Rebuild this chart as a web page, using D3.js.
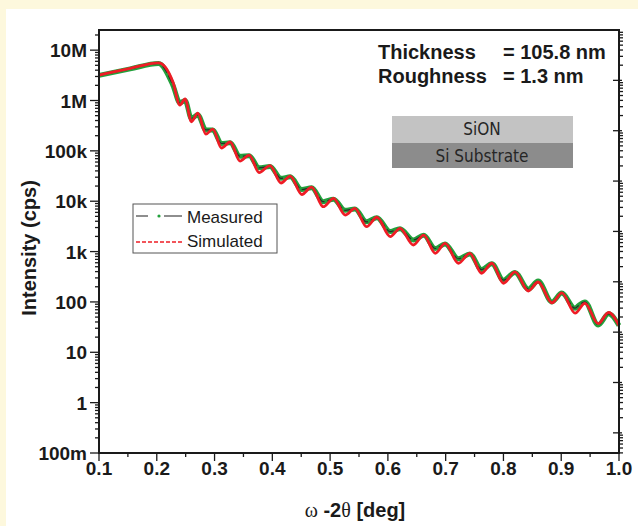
<!DOCTYPE html>
<html>
<head>
<meta charset="utf-8">
<script src="https://cdn.jsdelivr.net/npm/d3@7"></script>
<style>
  body { margin: 0; background: #fdf8dd; }
  svg { display: block; }
</style>
</head>
<body>
<div id="vis"></div>
<script>
const FRAME_WIDTH = 638;
const FRAME_HEIGHT = 526;
const PLOT = {left: 99, right: 619, top: 30, bottom: 453};

// axis ticks
const xTicks = [0.1, 0.2, 0.3, 0.4, 0.5, 0.6, 0.7, 0.8, 0.9, 1.0];
const xMinor = [0.15, 0.25, 0.35, 0.45, 0.55, 0.65, 0.75, 0.85, 0.95];
const yTicks = [1e-1, 1, 10, 100, 1e3, 1e4, 1e5, 1e6, 1e7];
const yTickLabels = ['100m', '1', '10', '100', '1k', '10k', '100k', '1M', '10M'];

// simulated curve (peaks / troughs)
const simX = [0.100, 0.154, 0.203, 0.228, 0.240, 0.249, 0.260, 0.271, 0.285, 0.297,
              0.312, 0.327, 0.344, 0.360, 0.377, 0.396, 0.415, 0.431, 0.451, 0.468,
              0.488, 0.506, 0.526, 0.543, 0.563, 0.581, 0.604, 0.621, 0.644, 0.662,
              0.682, 0.699, 0.722, 0.742, 0.762, 0.780, 0.800, 0.820, 0.843, 0.860,
              0.884, 0.901, 0.924, 0.941, 0.964, 0.982, 1.000];
const simY = [3.19e6, 4.34e6, 5.6e6, 2.32e6, 8.1e5, 1.07e6, 3.78e5, 5.62e5, 2.15e5, 2.71e5,
              1.14e5, 1.5e5, 6.28e4, 8.26e4, 3.71e4, 5.11e4, 2.3e4, 3.16e4, 1.36e4, 1.91e4,
              7.78e3, 1.14e4, 5.32e3, 7.23e3, 3.12e3, 4.8e3, 1.98e3, 2.9e3, 1.35e3, 2.13e3,
              925, 1460, 586, 925, 371, 586, 235, 394, 165, 249,
              96, 151, 60, 94, 37, 62, 34];

// measured curve
const measX = [0.100, 0.154, 0.203, 0.228, 0.240, 0.249, 0.260, 0.271, 0.285, 0.297,
               0.312, 0.327, 0.344, 0.360, 0.377, 0.396, 0.415, 0.431, 0.451, 0.468,
               0.488, 0.506, 0.526, 0.543, 0.563, 0.581, 0.604, 0.621, 0.644, 0.662,
               0.682, 0.699, 0.722, 0.742, 0.762, 0.780, 0.800, 0.820, 0.843, 0.860,
               0.884, 0.901, 0.924, 0.930, 0.941, 0.964, 0.982, 1.000];
const measY = [3.15e6, 4.25e6, 5.45e6, 2.0e6, 9.0e5, 1.0e6, 4.4e5, 5.2e5, 2.6e5, 2.6e5,
               1.4e5, 1.45e5, 7.8e4, 8.0e4, 4.6e4, 4.9e4, 2.85e4, 3.05e4, 1.7e4, 1.85e4,
               9.8e3, 1.1e4, 6.6e3, 7.0e3, 3.9e3, 4.7e3, 2.5e3, 2.85e3, 1.7e3, 2.1e3,
               1150, 1420, 720, 900, 440, 570, 270, 385, 180, 260,
               100, 150, 75, 85, 100, 35, 58, 34];

const simData = simX.map((x, i) => ({x: x, y: simY[i]}));
const measData = measX.map((x, i) => ({x: x, y: measY[i]}));

const svg = d3.select('#vis')
  .append('svg')
    .attr('width', FRAME_WIDTH)
    .attr('height', FRAME_HEIGHT);

// white panel on the cream page
svg.append('rect')
  .attr('x', 6).attr('y', 9)
  .attr('width', FRAME_WIDTH - 6).attr('height', FRAME_HEIGHT - 9)
  .attr('fill', '#ffffff');

const X_SCALE = d3.scaleLinear().domain([0.1, 1.0]).range([PLOT.left, PLOT.right]);
const Y_SCALE = d3.scaleLog().domain([1e-1, Math.pow(10, 7.4)]).range([PLOT.bottom, PLOT.top]);
// the right-hand axis of the original sits offset from the left one
const Y_RIGHT = d3.scaleLog().domain([Math.pow(10, -0.4), 1e8]).range([PLOT.bottom, PLOT.top]);

const font = 'Liberation Sans, Arial, sans-serif';

// curves
const line = d3.line()
  .x(d => X_SCALE(d.x))
  .y(d => Y_SCALE(d.y))
  .curve(d3.curveMonotoneX);

svg.append('path')
  .datum(measData)
  .attr('d', line)
  .attr('fill', 'none')
  .attr('stroke', '#23a03c')
  .attr('stroke-width', 5);

svg.append('path')
  .datum(measData)
  .attr('d', line)
  .attr('fill', 'none')
  .attr('stroke', '#2a2a2a')
  .attr('stroke-width', 1.2)
  .attr('stroke-dasharray', '8,3');

svg.append('path')
  .datum(simData)
  .attr('d', line)
  .attr('fill', 'none')
  .attr('stroke', '#ee1c25')
  .attr('stroke-width', 2.8);

// frame
svg.append('rect')
  .attr('x', PLOT.left).attr('y', PLOT.top)
  .attr('width', PLOT.right - PLOT.left).attr('height', PLOT.bottom - PLOT.top)
  .attr('fill', 'none')
  .attr('stroke', '#1a1a1a')
  .attr('stroke-width', 2);

// left axis
const yMinor = [];
for (let e = -1; e < 8; e++) {
  for (let m = 2; m <= 9; m++) {
    const v = m * Math.pow(10, e);
    if (v < Math.pow(10, 7.4)) yMinor.push(v);
  }
}
const ticksG = svg.append('g').attr('stroke', '#1a1a1a').attr('stroke-width', 1.3);
ticksG.selectAll('.ymaj').data(yTicks).enter().append('line')
  .attr('x1', PLOT.left - 9).attr('x2', PLOT.left)
  .attr('y1', d => Y_SCALE(d)).attr('y2', d => Y_SCALE(d));
ticksG.selectAll('.ymin').data(yMinor).enter().append('line')
  .attr('x1', PLOT.left - 4).attr('x2', PLOT.left)
  .attr('y1', d => Y_SCALE(d)).attr('y2', d => Y_SCALE(d));

svg.selectAll('.ylab').data(yTicks).enter().append('text')
  .attr('x', PLOT.left - 12)
  .attr('y', d => Y_SCALE(d) + 7)
  .attr('text-anchor', 'end')
  .attr('font-family', font)
  .attr('font-weight', 'bold')
  .attr('font-size', 19)
  .attr('fill', '#1a1a1a')
  .text((d, i) => yTickLabels[i]);

// right axis
const rTicks = [1, 10, 100, 1e3, 1e4, 1e5, 1e6, 1e7];
const rMinor = [];
for (let e = -1; e < 8; e++) {
  for (let m = 2; m <= 9; m++) {
    const v = m * Math.pow(10, e);
    if (v > Math.pow(10, -0.4) && v < 1e8) rMinor.push(v);
  }
}
ticksG.selectAll('.rmaj').data(rTicks).enter().append('line')
  .attr('x1', PLOT.right - 6).attr('x2', PLOT.right + 3)
  .attr('y1', d => Y_RIGHT(d)).attr('y2', d => Y_RIGHT(d));
ticksG.selectAll('.rmin').data(rMinor).enter().append('line')
  .attr('x1', PLOT.right).attr('x2', PLOT.right + 4)
  .attr('y1', d => Y_RIGHT(d)).attr('y2', d => Y_RIGHT(d));

// bottom axis
ticksG.selectAll('.xmaj').data(xTicks).enter().append('line')
  .attr('x1', d => X_SCALE(d)).attr('x2', d => X_SCALE(d))
  .attr('y1', PLOT.bottom).attr('y2', PLOT.bottom + 8);
ticksG.selectAll('.xmin').data(xMinor).enter().append('line')
  .attr('x1', d => X_SCALE(d)).attr('x2', d => X_SCALE(d))
  .attr('y1', PLOT.bottom).attr('y2', PLOT.bottom + 4);

svg.selectAll('.xlab').data(xTicks).enter().append('text')
  .attr('x', d => X_SCALE(d))
  .attr('y', PLOT.bottom + 22)
  .attr('text-anchor', 'middle')
  .attr('font-family', font)
  .attr('font-weight', 'bold')
  .attr('font-size', 19)
  .attr('fill', '#1a1a1a')
  .text(d => d.toFixed(1));

// axis titles
svg.append('text')
  .attr('transform', 'translate(36,248) rotate(-90)')
  .attr('text-anchor', 'middle')
  .attr('font-family', font)
  .attr('font-weight', 'bold')
  .attr('font-size', 20)
  .attr('fill', '#1a1a1a')
  .text('Intensity (cps)');

const xTitle = svg.append('text')
  .attr('x', 355).attr('y', 517)
  .attr('text-anchor', 'middle')
  .attr('font-size', 20)
  .attr('fill', '#1a1a1a');
xTitle.append('tspan').attr('font-family', 'Liberation Serif, serif').text('\u03c9');
xTitle.append('tspan').attr('font-family', font).attr('font-weight', 'bold').text(' -2');
xTitle.append('tspan').attr('font-family', 'Liberation Serif, serif').text('\u03b8');
xTitle.append('tspan').attr('font-family', font).attr('font-weight', 'bold').text(' [deg]');

// annotation
const notes = [['Thickness', '= 105.8 nm', 59], ['Roughness', '= 1.3 nm', 83]];
notes.forEach(n => {
  svg.append('text').attr('x', 378).attr('y', n[2])
    .attr('font-family', font).attr('font-weight', 'bold').attr('font-size', 20)
    .attr('fill', '#1a1a1a').text(n[0]);
  svg.append('text').attr('x', 503).attr('y', n[2])
    .attr('font-family', font).attr('font-weight', 'bold').attr('font-size', 20)
    .attr('fill', '#1a1a1a').text(n[1]);
});

// layer stack sketch
const layers = [['SiON', '#c3c3c3', 116, 27], ['Si Substrate', '#8c8c8c', 143, 25]];
layers.forEach(l => {
  svg.append('rect').attr('x', 392).attr('y', l[2]).attr('width', 181).attr('height', l[3])
    .attr('fill', l[1]);
  svg.append('text').attr('x', 482).attr('y', l[2] + 19)
    .attr('text-anchor', 'middle')
    .attr('font-family', 'Liberation Sans Narrow, DejaVu Sans Condensed, sans-serif')
    .attr('font-size', 17).attr('fill', '#262626').text(l[0]);
});

// legend
const lg = svg.append('g');
lg.append('rect').attr('x', 133).attr('y', 204).attr('width', 144).attr('height', 49)
  .attr('fill', '#ffffff').attr('stroke', '#555555').attr('stroke-width', 1);
lg.append('line').attr('x1', 136).attr('x2', 183).attr('y1', 216).attr('y2', 216)
  .attr('stroke', '#6a6a6a').attr('stroke-width', 1.5).attr('stroke-dasharray', '12,7,0,9,18');
lg.append('circle').attr('cx', 159).attr('cy', 216).attr('r', 1.6).attr('fill', '#23a03c');
lg.append('line').attr('x1', 136).attr('x2', 183).attr('y1', 242).attr('y2', 242)
  .attr('stroke', '#ee1c25').attr('stroke-width', 1.5).attr('stroke-dasharray', '4,2');
lg.append('text').attr('x', 187).attr('y', 223)
  .attr('font-family', font).attr('font-size', 17).attr('fill', '#1a1a1a').text('Measured');
lg.append('text').attr('x', 187).attr('y', 247)
  .attr('font-family', font).attr('font-size', 17).attr('fill', '#1a1a1a').text('Simulated');
</script>
</body>
</html>
